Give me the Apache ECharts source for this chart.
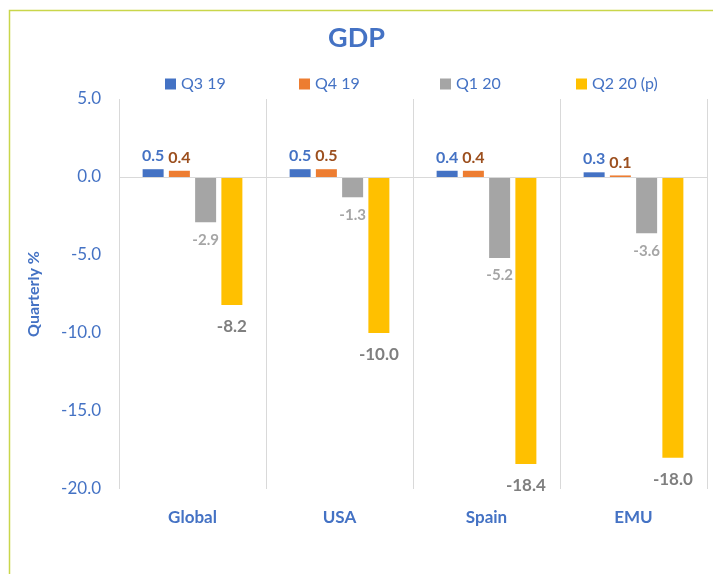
<!DOCTYPE html>
<html>
<head>
<meta charset="utf-8">
<script src="https://cdn.jsdelivr.net/npm/echarts@6/dist/echarts.min.js"></script>
<style>
  html, body { margin: 0; padding: 0; background: #fff; }
  #chart { width: 713px; height: 574px; }
</style>
</head>
<body>
<div id="chart"></div>
<script>
const categories = ['Global', 'USA', 'Spain', 'EMU']
const seriesNames = ['Q3 19', 'Q4 19', 'Q1 20', 'Q2 20 (p)']
const q319 = [0.5, 0.5, 0.4, 0.3]
const q419 = [0.4, 0.5, 0.4, 0.1]
const q120 = [-2.9, -1.3, -5.2, -3.6]
const q220 = [-8.2, -10.0, -18.4, -18.0]

const font = 'Lato, "Liberation Sans", sans-serif'
const blue = '#4472C4'

// bar colour, label colour, label size, gap below negative bars
const styles = [
    { color: '#4472C4', label: '#4472C4', size: 16, gap: 10 },
    { color: '#ED7D31', label: '#9C4F1E', size: 16, gap: 10 },
    { color: '#A5A5A5', label: '#A5A5A5', size: 15, gap: 10 },
    { color: '#FFC000', label: '#7F7F7F', size: 17, gap: 13 }
]
const legendLeft = [160, 294, 435, 571]

const makeSeries = (name, data, s) => ({
    name: name,
    type: 'bar',
    barWidth: 21,
    barGap: '25%',
    itemStyle: { color: s.color },
    data: data.map(v => ({
        value: v,
        label: {
            show: true,
            position: v < 0 ? 'bottom' : 'top',
            distance: v < 0 ? s.gap : 5,
            color: s.label,
            fontSize: s.size,
            fontWeight: 'bold',
            fontFamily: font,
            formatter: p => p.value.toFixed(1)
        }
    }))
})

const series = seriesNames.map((n, i) => makeSeries(n, [q319, q419, q120, q220][i], styles[i]))
// zero line
series[0].markLine = {
    silent: true,
    symbol: 'none',
    label: { show: false },
    lineStyle: { color: '#D9D9D9', type: 'solid', width: 1 },
    data: [{ yAxis: 0 }]
}

const chart = echarts.init(document.getElementById('chart'))
chart.setOption({
    animation: false,
    title: {
        text: 'GDP',
        left: 'center',
        top: 20,
        textStyle: { color: blue, fontSize: 27, fontWeight: 'bold', fontFamily: font }
    },
    legend: seriesNames.map((n, i) => ({
        top: 71,
        left: legendLeft[i],
        itemWidth: 11,
        itemHeight: 11,
        itemGap: 5,
        icon: 'rect',
        textStyle: { color: blue, fontSize: 16, fontFamily: font },
        data: [n]
    })),
    graphic: [{
        type: 'rect',
        shape: { x: 9.5, y: 10.5, width: 720, height: 580 },
        style: { fill: 'none', stroke: '#C9D64B', lineWidth: 1.5 },
        silent: true
    }],
    grid: { left: 119, right: 6, top: 99, bottom: 85 },
    xAxis: {
        type: 'category',
        data: categories,
        axisLine: { show: false, onZero: false },
        axisTick: { show: false },
        splitLine: { show: true, lineStyle: { color: '#D9D9D9' } },
        axisLabel: {
            color: blue, fontSize: 17, fontWeight: 'bold', fontFamily: font,
            interval: 0,
            margin: 20
        }
    },
    yAxis: {
        type: 'value',
        min: -20,
        max: 5,
        interval: 5,
        name: 'Quarterly %',
        nameLocation: 'middle',
        nameGap: 77,
        nameTextStyle: { color: blue, fontSize: 16, fontWeight: 'bold', fontFamily: font },
        axisLine: { show: false },
        axisTick: { show: false },
        splitLine: { show: false },
        axisLabel: {
            color: blue, fontSize: 17, fontFamily: font, margin: 18,
            formatter: v => v.toFixed(1)
        }
    },
    series: series
})
</script>
</body>
</html>
